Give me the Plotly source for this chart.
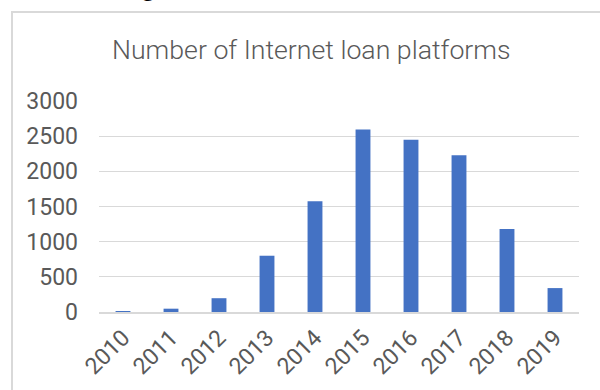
import plotly.graph_objects as go

years = ["2010", "2011", "2012", "2013", "2014", "2015", "2016", "2017", "2018", "2019"]
platforms = [10, 47, 196, 800, 1575, 2595, 2448, 2230, 1180, 340]
y_ticks = [0, 500, 1000, 1500, 2000, 2500, 3000]
title_text = "Number of Internet loan platforms"

W, H = 600, 390
L, R, T, B = 99, 21, 101, 78
pw, ph = W - L - R, H - T - B

def px_x(p):
    return (p - L) / pw

def px_y(p):
    return (H - B - p) / ph

font_fam = "Roboto"
gray = "#595959"

fig = go.Figure(go.Bar(
    x=years, y=platforms,
    marker=dict(color="#4472C4", line=dict(width=0)),
    width=0.31,
))

tick_font = dict(family=font_fam, size=23, color=gray, weight=400)

fig.update_layout(
    width=W, height=H,
    margin=dict(l=L, r=R, t=T, b=B, pad=0, autoexpand=False),
    paper_bgcolor="white", plot_bgcolor="white",
    showlegend=False,
    font=dict(family=font_fam, color=gray, size=23),
    xaxis=dict(
        type="category", showgrid=False, showline=True, linecolor="#d9d9d9", linewidth=2,
        tickangle=-45, ticks="", tickfont=tick_font, automargin=False,
        ticklabelstandoff=1,
    ),
    yaxis=dict(
        range=[0, 3000], tickvals=y_ticks, showgrid=True, gridcolor="#d9d9d9", gridwidth=1.3,
        zeroline=False, showline=False, ticks="", automargin=False,
        tickfont=tick_font,
        ticklabelstandoff=20,
    ),
    shapes=[dict(
        type="rect", xref="paper", yref="paper",
        x0=px_x(12), x1=px_x(640), y0=px_y(430), y1=px_y(12),
        line=dict(color="#d9d9d9", width=2), fillcolor="rgba(0,0,0,0)", layer="below",
    )],
    annotations=[
        dict(text=title_text, xref="paper", yref="paper", x=px_x(311), y=px_y(50),
             xanchor="center", yanchor="middle", showarrow=False,
             font=dict(family=font_fam, size=26.7, color=gray, weight=300)),
        dict(text="g", xref="paper", yref="paper", x=px_x(148), y=px_y(-12),
             xanchor="center", yanchor="middle", showarrow=False,
             font=dict(family="Liberation Serif", size=24, color="black")),
    ],
)

fig.write_html("out.html")
